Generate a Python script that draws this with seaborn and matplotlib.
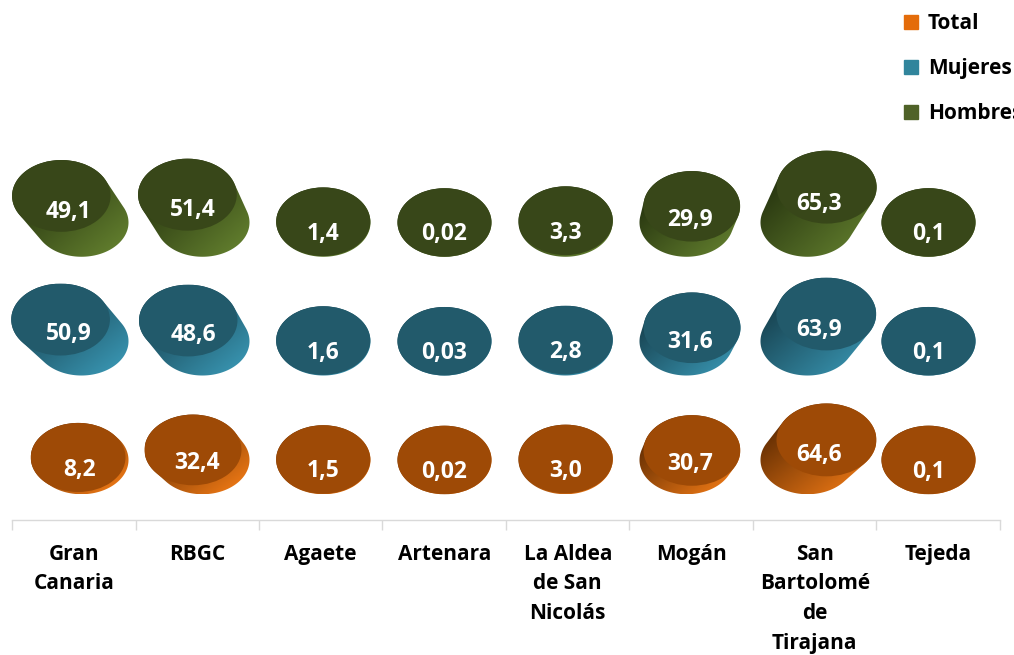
import numpy as np
import matplotlib
matplotlib.use("Agg")
import matplotlib.pyplot as plt
from matplotlib.patches import Ellipse, Polygon
from matplotlib.lines import Line2D
from matplotlib.colors import LinearSegmentedColormap
import seaborn as sns

# ==========================================
# DATA
# ==========================================

categories = ["Gran\nCanaria", "RBGC", "Agaete", "Artenara",
              "La Aldea\nde San\nNicolás", "Mogán",
              "San\nBartolomé\nde\nTirajana", "Tejeda"]
series = ["Total", "Mujeres", "Hombres"]

total = [8.2, 32.4, 1.5, 0.02, 3.0, 30.7, 64.6, 0.1]
mujeres = [50.9, 48.6, 1.6, 0.03, 2.8, 31.6, 63.9, 0.1]
hombres = [49.1, 51.4, 1.4, 0.02, 3.3, 29.9, 65.3, 0.1]

legend_colors = ["#E46C0A", "#31859C", "#4F6228"]
top_colors = ["#9E4A06", "#225A6B", "#384719"]
side_dark = ["#5C2A02", "#163E4B", "#24310E"]
side_light = ["#F47C16", "#3A98B5", "#64812F"]

# ==========================================
# STYLE
# ==========================================

sns.set_theme(style="white")
plt.rcParams["font.family"] = ["Open Sans", "DejaVu Sans"]

# perspective of the 3D view (category units / row units)
PERSP = 0.00097
CX, CY = 3.5, -2.7
RX, RY = 0.777 / 2, 0.577 / 2


def project(x, y, v):
    s = 1 + PERSP * v
    return CX + (x - CX) * s, CY + (y - CY) * s, s


def ellipse_pts(cx, cy, s, n=160):
    t = np.linspace(0, 2 * np.pi, n, endpoint=False)
    return np.column_stack([cx + RX * s * np.cos(t), cy + RY * s * np.sin(t)])


def hull(pts):
    pts = sorted(map(tuple, pts))

    def cross(o, a, b):
        return (a[0] - o[0]) * (b[1] - o[1]) - (a[1] - o[1]) * (b[0] - o[0])

    lower, upper = [], []
    for p in pts:
        while len(lower) >= 2 and cross(lower[-2], lower[-1], p) <= 0:
            lower.pop()
        lower.append(p)
    for p in reversed(pts):
        while len(upper) >= 2 and cross(upper[-2], upper[-1], p) <= 0:
            upper.pop()
        upper.append(p)
    return np.array(lower[:-1] + upper[:-1])


def fmt(v):
    s = f"{v:.2f}" if v < 0.05 else f"{v:.1f}"
    return s.replace(".", ",")


# ==========================================
# FIGURE
# ==========================================

fig = plt.figure(figsize=(10.14, 6.55), dpi=100)
ax = fig.add_axes([0, 0, 1, 1])
ax.axis("off")

rows = [total, mujeres, hombres]

for r in [2, 1, 0]:
    cmap = LinearSegmentedColormap.from_list("side", [side_dark[r], side_light[r]])
    for i, v in enumerate(rows[r]):
        tx, ty, s = project(i, r, v)

        # cylinder side
        pts = hull(np.vstack([ellipse_pts(i, r, 1.0), ellipse_pts(tx, ty, s)]))
        poly = Polygon(pts, closed=True, facecolor="none", edgecolor="none")
        ax.add_patch(poly)
        x0, y0 = pts.min(axis=0)
        x1, y1 = pts.max(axis=0)
        xx, yy = np.meshgrid(np.linspace(0, 1, 60), np.linspace(0, 1, 60))
        grad = (xx + (1 - yy)) / 2
        im = ax.imshow(grad, extent=[x0, x1, y0, y1], origin="lower",
                       cmap=cmap, vmin=0.15, vmax=0.95, aspect="auto",
                       interpolation="bilinear", zorder=2)
        im.set_clip_path(poly)

        # top face
        ax.add_patch(Ellipse((tx, ty), 2 * RX * s, 2 * RY * s,
                             facecolor=top_colors[r], edgecolor="none", zorder=3))

        lx = i + 0.62 * (tx - i)
        ly = r - 0.1 + 0.86 * (ty - r)
        ax.text(lx, ly, fmt(v), ha="center", va="center", color="white",
                fontsize=16.5, fontweight="bold", zorder=4)

ax.set_xlim(-81.5 / 121, (1014 - 81.5) / 121)
ax.set_ylim((460 - 655) / 118.75, 460 / 118.75)

# ==========================================
# CATEGORY AXIS
# ==========================================

ax2 = fig.add_axes([12 / 1014, (655 - 520) / 655, 988 / 1014, 0.001])
ax2.patch.set_alpha(0)
ax2.set_xlim(-0.5, 7.5)
ax2.set_ylim(0, 1)
sns.despine(ax=ax2, left=True, top=True, right=True)
ax2.spines["bottom"].set_color("#D9D9D9")
ax2.spines["bottom"].set_linewidth(1)
ax2.set_yticks([])
ax2.set_xticks(range(len(categories)))
ax2.set_xticklabels(categories, fontsize=15, fontweight="bold",
                    linespacing=1.55, color="black")
ax2.set_xticks(np.arange(-0.5, len(categories), 1), minor=True)
ax2.tick_params(axis="x", which="major", length=0, pad=17, bottom=True)
ax2.tick_params(axis="x", which="minor", length=7, width=1,
                color="#D9D9D9", direction="out", bottom=True)

# ==========================================
# LEGEND
# ==========================================

handles = [Line2D([], [], marker="s", linestyle="", markersize=9.5, color=c)
           for c in legend_colors]
fig.legend(handles, series, loc="upper left",
           bbox_to_anchor=(903 / 1014, 1 - 13 / 655), frameon=False,
           prop={"weight": "bold", "size": 15}, labelcolor="black",
           handlelength=0.8, handletextpad=0.4, labelspacing=1.15,
           borderpad=0, borderaxespad=0)

fig.savefig("out.png", dpi=100)
